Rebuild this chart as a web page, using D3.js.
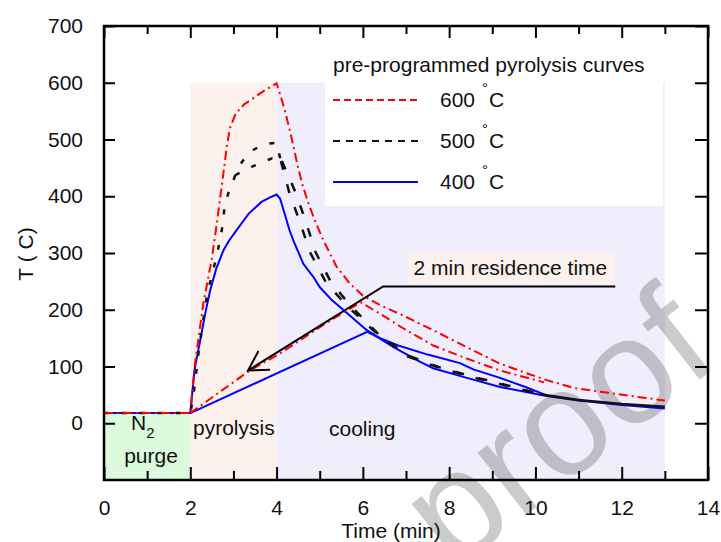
<!DOCTYPE html>
<html>
<head>
<meta charset="utf-8">
<script src="https://cdn.jsdelivr.net/npm/d3@7"></script>
<style>
  body { margin: 0; background: #fff; }
  text { font-family: "Liberation Sans", Arial, sans-serif; fill: #111; }
</style>
</head>
<body>
<svg></svg>
<script>
// tick values
const xTicks = [0, 2, 4, 6, 8, 10, 12, 14]
const xMinor = [1, 3, 5, 7, 9, 11, 13]
const yTicks = [0, 100, 200, 300, 400, 500, 600, 700]

// process phases: [start, end, top temperature]
const phaseNames = ['purge', 'pyrolysis', 'cooling']
const phaseStart = [0, 2, 4]
const phaseEnd = [2, 4, 13]
const phaseTop = [17, 600, 600]

// [time (min), T (C)]
const red600 = [[0,18],[2,18],[2.1,100],[2.3,210],[2.5,290],[2.62,355],[2.75,430],[2.85,490],[2.92,520],
  [3.05,545],[3.25,562],[3.5,575],[3.75,588],[3.9,594],[4.0,599],[4.1,575],[4.2,549],[4.3,518],[4.4,485],
  [4.5,450],[4.6,420],[4.75,385],[4.9,355],[5.08,323],[5.39,276],[5.7,246],[6.0,225],[6.4,208],[6.9,191],
  [7.63,164],[8.41,134],[9.18,105],[9.8,88],[10.26,76],[10.9,62],[11.65,54],[12.42,46],[13.0,40]]
const red600Res = [[2,18],[3.38,93],[4.08,123],[5.24,181],[5.95,213],[6.4,193],[6.94,167],[7.63,137],
  [8.41,114],[9.18,93],[10.2,72]]

const black500 = [[0,18],[2,18],[2.07,46],[2.2,130],[2.38,222],[2.5,262],[2.61,293],[2.73,340],[2.8,384],
  [2.9,410],[2.96,419],[3.04,437],[3.15,455],[3.28,469],[3.45,481],[3.65,490],[3.85,493],[4.0,494],
  [4.1,462],[4.3,405],[4.54,355],[4.77,302],[5.16,246],[5.66,205],[6.32,158],[7.02,118],[7.8,97],
  [8.6,80],[9.5,63],[10.1,51],[11,41],[12,34],[13,29]]
const black500Res = [[3.04,437],[3.25,446],[3.46,453],[3.7,461],[3.9,467],[4.12,462],[4.25,440],
  [4.45,405],[4.68,355],[4.9,302],[5.25,250],[5.7,208],[6.32,160],[7.02,120],[7.8,98],[8.6,81],
  [9.5,64],[10.1,51]]

const blue400 = [[0,18],[2,18],[2.1,95],[2.23,146],[2.35,195],[2.46,234],[2.6,272],[2.77,305],[2.9,322],
  [3.07,340],[3.35,369],[3.65,390],[3.85,398],[4.0,403],[4.08,396],[4.2,366],[4.3,340],[4.4,320],
  [4.62,281],[4.85,258],[5.0,240],[5.28,217],[5.47,205],[6.09,164],[6.71,134],[7.33,108],[7.63,97],
  [8.41,80],[9.18,64],[10.26,48],[11,40],[12,32],[13,26]]
const blue400Res = [[2,18],[6.1,161],[6.4,150],[6.86,136],[7.5,121],[8.25,106],[8.56,95],[9.18,80],
  [9.8,63],[10.26,49]]

const legendLabels = ['600', '500', '400']

const width = 721
const height = 542
const x = d3.scaleLinear().domain([0, 14]).range([104, 708])
const y = d3.scaleLinear().domain([-100, 700]).range([480, 26])

const svg = d3.select('svg').attr('width', width).attr('height', height)

// shaded phases
const phaseColors = ['#dcfadc', '#fcf1ed', '#f0eefc']
svg.append('g').selectAll('rect')
  .data(phaseNames)
  .enter()
  .append('rect')
  .attr('x', (d, i) => x(phaseStart[i]))
  .attr('y', (d, i) => y(phaseTop[i]))
  .attr('width', (d, i) => x(phaseEnd[i]) - x(phaseStart[i]))
  .attr('height', (d, i) => y(-100) - y(phaseTop[i]))
  .attr('fill', (d, i) => phaseColors[i])

// legend background
svg.append('rect').attr('x', 325).attr('y', 27).attr('width', 338).attr('height', 179).attr('fill', '#fff')

// residence label box
svg.append('rect')
  .attr('x', x(7.05)).attr('y', y(301))
  .attr('width', x(11.82) - x(7.05)).attr('height', y(246) - y(301))
  .attr('fill', '#fcf1ed')

// watermark
svg.append('text')
  .text('Journal Pre-proof')
  .attr('text-anchor', 'end')
  .attr('transform', 'translate(722,362) rotate(-38)')
  .style('font-size', '150px')
  .style('fill', '#000')
  .style('opacity', 0.2)

const line = d3.line().x(d => x(d[0])).y(d => y(d[1]))
const seg = (data, t0, t1) => data.filter(d => d[0] >= t0 && d[0] <= t1)

function draw(data, color, dash, w) {
  svg.append('path')
    .attr('d', line(data))
    .attr('fill', 'none')
    .attr('stroke', color)
    .attr('stroke-width', w)
    .attr('stroke-dasharray', dash)
}

draw(blue400, '#0000ff', null, 2)
draw(blue400Res, '#0000ff', null, 2)
draw(seg(black500, 0, 4.1), '#111', '5,13', 2.5)
draw(seg(black500, 4.1, 10.1), '#111', '9,15', 2.5)
draw(seg(black500, 10.1, 14), '#111', null, 2.5)
draw(seg(black500Res, 0, 4.12), '#111', '5,13', 2.5)
draw(seg(black500Res, 4.12, 10.1), '#111', '9,15', 2.5)
draw(red600, '#ff0000', '9,4,2,4', 2)
draw(red600Res, '#ff0000', '9,4,2,4', 2)

// annotation arrow
const tip = [x(3.34), y(93)]
const knee = [x(6.47), y(241)]
const ann = svg.append('g').attr('stroke', '#000').attr('stroke-width', 2).attr('fill', 'none')
ann.append('polyline')
  .attr('points', [[x(11.85), y(241)], knee, tip].map(p => p.join(',')).join(' '))
const ang = Math.atan2(knee[1] - tip[1], knee[0] - tip[0])
const arms = [Math.PI / 6, -Math.PI / 6].map(a => [tip[0] + 22 * Math.cos(ang + a), tip[1] + 22 * Math.sin(ang + a)])
ann.append('polyline')
  .attr('points', [arms[0], tip, arms[1]].map(p => p.join(',')).join(' '))

svg.append('text')
  .text('2 min residence time')
  .attr('x', x(9.42)).attr('y', y(262))
  .attr('text-anchor', 'middle')
  .style('font-size', '21px')

// phase labels
const n2 = svg.append('text').attr('x', 131).attr('y', 430).style('font-size', '21px').text('N')
n2.append('tspan').attr('dy', 8).style('font-size', '15px').text('2')
svg.append('text').attr('x', 151).attr('y', 463).attr('text-anchor', 'middle').style('font-size', '21px').text('purge')
svg.append('text').attr('x', 193).attr('y', 435).style('font-size', '21px').text('pyrolysis')
svg.append('text').attr('x', 329).attr('y', 436).style('font-size', '21px').text('cooling')

// legend
svg.append('text').attr('x', 333).attr('y', 72).style('font-size', '21px').text('pre-programmed pyrolysis curves')
const legendColors = ['#ff0000', '#111', '#0000ff']
const legendDash = ['7,4', '7,6', null]
const legendY = [100, 141, 182]
legendLabels.forEach((l, i) => {
  svg.append('line')
    .attr('x1', 333).attr('x2', 418)
    .attr('y1', legendY[i]).attr('y2', legendY[i])
    .attr('stroke', legendColors[i])
    .attr('stroke-width', 2)
    .attr('stroke-dasharray', legendDash[i])
  const t = svg.append('text').attr('x', 440).attr('y', legendY[i] + 7).style('font-size', '21px').text(l)
  t.append('tspan').attr('x', 482).attr('dy', -14).style('font-size', '15px').text('°')
  t.append('tspan').attr('x', 489).attr('dy', 14).text('C')
})

// axes
svg.append('g').attr('transform', `translate(0, ${y(-100)})`)
  .call(d3.axisBottom(x).tickValues(xTicks).tickSize(-13).tickPadding(20).tickSizeOuter(0))
svg.append('g').attr('transform', `translate(0, ${y(-100)})`)
  .call(d3.axisBottom(x).tickValues(xMinor).tickSize(-9).tickFormat('').tickSizeOuter(0))
svg.append('g').attr('transform', `translate(0, ${y(700)})`)
  .call(d3.axisTop(x).tickValues(xTicks).tickSize(-12).tickFormat('').tickSizeOuter(0))
svg.append('g').attr('transform', `translate(0, ${y(700)})`)
  .call(d3.axisTop(x).tickValues(xMinor).tickSize(-8).tickFormat('').tickSizeOuter(0))
svg.append('g').attr('transform', `translate(${x(0)}, 0)`)
  .call(d3.axisLeft(y).tickValues(yTicks).tickSize(-11).tickPadding(21).tickSizeOuter(0))
svg.append('g').attr('transform', `translate(${x(14)}, 0)`)
  .call(d3.axisRight(y).tickValues(yTicks).tickSize(-13).tickFormat('').tickSizeOuter(0))

svg.selectAll('.domain').remove()
svg.selectAll('.tick line').attr('stroke', '#000').attr('stroke-width', 2)
svg.selectAll('.tick text').style('font-size', '21px').style('font-family', '"Liberation Sans", Arial, sans-serif').attr('fill', '#111')

svg.append('rect')
  .attr('x', x(0)).attr('y', y(700))
  .attr('width', x(14) - x(0)).attr('height', y(-100) - y(700))
  .attr('fill', 'none').attr('stroke', '#000').attr('stroke-width', 2.5)

// axis titles
svg.append('text').attr('x', 391).attr('y', 538).attr('text-anchor', 'middle').style('font-size', '21px').text('Time (min)')
svg.append('text').attr('transform', 'translate(33, 254) rotate(-90)').attr('text-anchor', 'middle')
  .style('font-size', '21px').text('T ( C)')
</script>
</body>
</html>
